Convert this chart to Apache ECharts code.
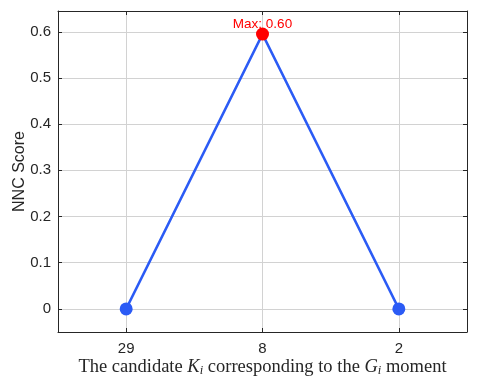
<!DOCTYPE html>
<html>
<head>
<meta charset="utf-8">
<script src="https://cdn.jsdelivr.net/npm/echarts@6/dist/echarts.min.js"></script>
<style>
  html, body { margin: 0; padding: 0; background: #fff; }
  #chart { width: 478px; height: 379px; }
</style>
</head>
<body>
<div id="chart"></div>
<script>
  // candidate K_i values and their NNC scores
  const categories = ['29', '8', '2']
  const scores = [0, 0.595, 0]
  const maxLabel = 'Max: 0.60'
  const yTicks = [0, 0.1, 0.2, 0.3, 0.4, 0.5, 0.6]
  const xTicks = categories.map((c, i) => i)

  const axisColor = '#262626'
  const gridColor = '#d2d2d2'
  const sans = 'Liberation Sans, Arial, Helvetica'

  let maxIdx = scores.indexOf(Math.max(...scores))
  let lineData = scores.map((v, i) => {
    if (i !== maxIdx) return [i, v]
    return {
      value: [i, v],
      itemStyle: { color: '#ff0000' },
      label: {
        show: true, position: 'top', distance: -4,
        formatter: maxLabel, color: '#ff0000', fontSize: 13.5,
        fontFamily: sans
      }
    }
  })

  // x axis: categories placed at 0..n-1 so grid lines fall on the points
  function xAxisBase () {
    return {
      type: 'value',
      min: -0.5,
      max: categories.length - 0.5,
      axisLine: { show: true, onZero: false, lineStyle: { color: axisColor, width: 1 } },
      axisTick: { show: true, inside: true, length: 4, lineStyle: { color: axisColor }, customValues: xTicks }
    }
  }
  function yAxisBase () {
    return {
      type: 'value',
      min: -0.05,
      max: 0.645,
      interval: 0.1,
      axisLine: { show: true, onZero: false, lineStyle: { color: axisColor, width: 1 } },
      axisTick: { show: true, inside: true, length: 4, lineStyle: { color: axisColor }, customValues: yTicks }
    }
  }

  const chart = echarts.init(document.getElementById('chart'))
  chart.setOption({
    animation: false,
    grid: { left: 58, top: 11, right: 11, bottom: 47, containLabel: false, outerBoundsMode: 'none' },
    xAxis: [
      Object.assign(xAxisBase(), {
        position: 'bottom',
        axisLabel: {
          color: axisColor, fontSize: 15, margin: 9, fontFamily: sans,
          customValues: xTicks,
          formatter: v => categories[Math.round(v)]
        },
        splitLine: { show: true, lineStyle: { color: gridColor } },
        name: 'The candidate {i|K}{s|i} corresponding to the {i|G}{s|i} moment',
        nameLocation: 'middle',
        nameMoveOverlap: false,
        nameGap: 25,
        nameTextStyle: {
          color: axisColor, fontSize: 18.5, fontFamily: 'Liberation Serif, Times New Roman, serif',
          rich: {
            i: { fontStyle: 'italic', fontSize: 18.5, fontFamily: 'Liberation Serif, serif', color: axisColor },
            s: { fontStyle: 'italic', fontSize: 12.5, fontFamily: 'Liberation Serif, serif', color: axisColor, padding: [7, 0, 0, 0] }
          }
        }
      }),
      Object.assign(xAxisBase(), {
        position: 'top',
        axisLabel: { show: false },
        splitLine: { show: false }
      })
    ],
    yAxis: [
      Object.assign(yAxisBase(), {
        position: 'left',
        axisLabel: {
          color: axisColor, fontSize: 15, margin: 7, fontFamily: sans,
          customValues: yTicks,
          formatter: v => (Math.abs(v) < 1e-9 ? '0' : v.toFixed(1))
        },
        splitLine: { show: true, lineStyle: { color: gridColor } },
        name: 'NNC Score',
        nameLocation: 'middle',
        nameMoveOverlap: false,
        nameGap: 30,
        nameTextStyle: { color: axisColor, fontSize: 16, fontFamily: sans }
      }),
      Object.assign(yAxisBase(), {
        position: 'right',
        axisLabel: { show: false },
        splitLine: { show: false }
      })
    ],
    series: [
      {
        type: 'line',
        data: lineData,
        symbol: 'circle',
        symbolSize: 13,
        lineStyle: { color: '#2b5bf5', width: 2.5 },
        itemStyle: { color: '#2b5bf5' },
        z: 5
      }
    ]
  })
</script>
</body>
</html>
